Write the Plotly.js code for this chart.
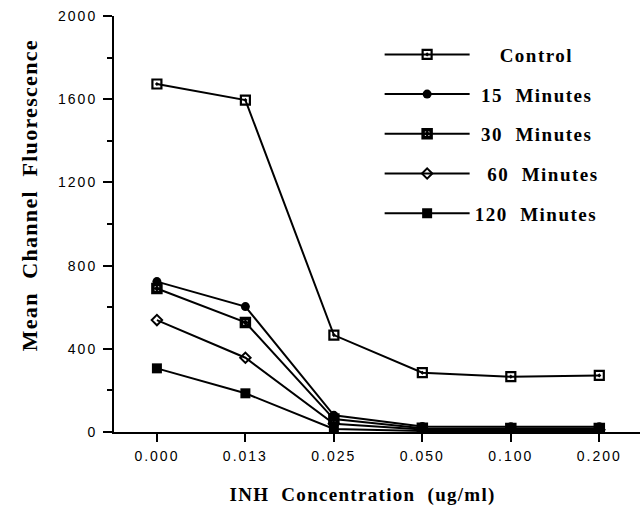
<!DOCTYPE html>
<html>
<head>
<meta charset="utf-8">
<script src="https://cdn.plot.ly/plotly-3.0.1.min.js"></script>
<style>
html,body{margin:0;padding:0;background:#fff;}
#chart{width:640px;height:505px;}
.xtick text, .ytick text{letter-spacing:2px;}
.legendtext{letter-spacing:1.5px;}
#chart .annotation-text-g:nth-of-type(1) text{letter-spacing:1.3px;}
#chart .annotation-text-g:nth-of-type(2) text{letter-spacing:3.2px;}
</style>
</head>
<body>
<div id="chart"></div>
<script>
// Data
const concentrations = ["0.000", "0.013", "0.025", "0.050", "0.100", "0.200"];
const seriesNames = ["\u00A0\u00A0\u00A0\u00A0Control", "\u00A015\u00A0 Minutes", "\u00A030\u00A0 Minutes", "\u00A0\u00A060\u00A0 Minutes", "120\u00A0 Minutes"];
const control = [1673, 1596, 466, 285, 266, 272];
const min15 = [723, 603, 80, 27, 25, 25];
const min30 = [690, 527, 62, 18, 17, 17];
const min60 = [538, 357, 40, 12, 11, 11];
const min120 = [306, 186, 15, 5, 5, 5];
const yTickVals = [0, 400, 800, 1200, 1600, 2000];

const seriesValues = [control, min15, min30, min60, min120];
const markerSymbols = ["square-open-dot", "circle", "square-open-dot", "diamond-open", "square"];
const markerSizes = [9, 9, 8, 8, 10];
const markerLineWidths = [2.2, 0, 3.5, 2, 0];

const traces = seriesValues.map((vals, i) => ({
  type: "scatter",
  mode: "lines+markers",
  x: concentrations,
  y: vals,
  name: seriesNames[i],
  legendgroup: "g" + i,
  line: {color: "#000", width: 2},
  marker: {
    symbol: markerSymbols[i],
    size: markerSizes[i],
    color: "#000",
    line: {color: "#000", width: markerLineWidths[i]}
  }
}));

const layout = {
  width: 640,
  height: 505,
  margin: {l: 114, r: 0, t: 16, b: 73},
  paper_bgcolor: "#fff",
  plot_bgcolor: "#fff",
  showlegend: true,
  legend: {
    x: 0.505, y: 0.953, xanchor: "left", yanchor: "top",
    bgcolor: "rgba(0,0,0,0)",
    font: {family: "Liberation Serif", size: 19, color: "#000", weight: "bold"},
    tracegroupgap: 12,
    itemwidth: 85
  },
  xaxis: {
    type: "category",
    range: [-0.485, 5.46],
    showgrid: false,
    zeroline: false,
    showline: true,
    linecolor: "#000",
    linewidth: 2,
    ticks: "outside",
    ticklen: 8,
    tickwidth: 2,
    tickcolor: "#000",
    ticklabelstandoff: 2,
    tickfont: {family: "Liberation Sans", size: 14, color: "#000"},
    minor: {ticks: "outside", ticklen: 4, tickwidth: 2, tickcolor: "#000"},
    fixedrange: true
  },
  yaxis: {
    range: [0, 2000],
    tickvals: yTickVals,
    ticktext: yTickVals.map(String),
    showgrid: false,
    zeroline: false,
    showline: true,
    linecolor: "#000",
    linewidth: 2,
    ticks: "outside",
    ticklen: 9,
    tickwidth: 2,
    tickcolor: "#000",
    ticklabelstandoff: 3,
    tickfont: {family: "Liberation Sans", size: 14, color: "#000"},
    minor: {dtick: 200, tick0: 0, ticks: "outside", ticklen: 5, tickwidth: 2, tickcolor: "#000"},
    fixedrange: true
  },
  annotations: [
    {
      text: "INH\u00A0 Concentration\u00A0 (ug/ml)",
      xref: "paper", yref: "paper", x: 0.472, y: -0.152,
      xanchor: "center", yanchor: "middle", showarrow: false,
      font: {family: "Liberation Serif", size: 19, color: "#000", weight: "bold"}
    },
    {
      text: "Mean\u00A0 Channel\u00A0 Fluorescence",
      xref: "paper", yref: "paper", x: -0.160, y: 0.57,
      xanchor: "center", yanchor: "middle", showarrow: false, textangle: -90,
      font: {family: "Liberation Serif", size: 22, color: "#000", weight: "bold"}
    }
  ]
};

Plotly.newPlot("chart", traces, layout, {staticPlot: true, displayModeBar: false});
</script>
</body>
</html>
